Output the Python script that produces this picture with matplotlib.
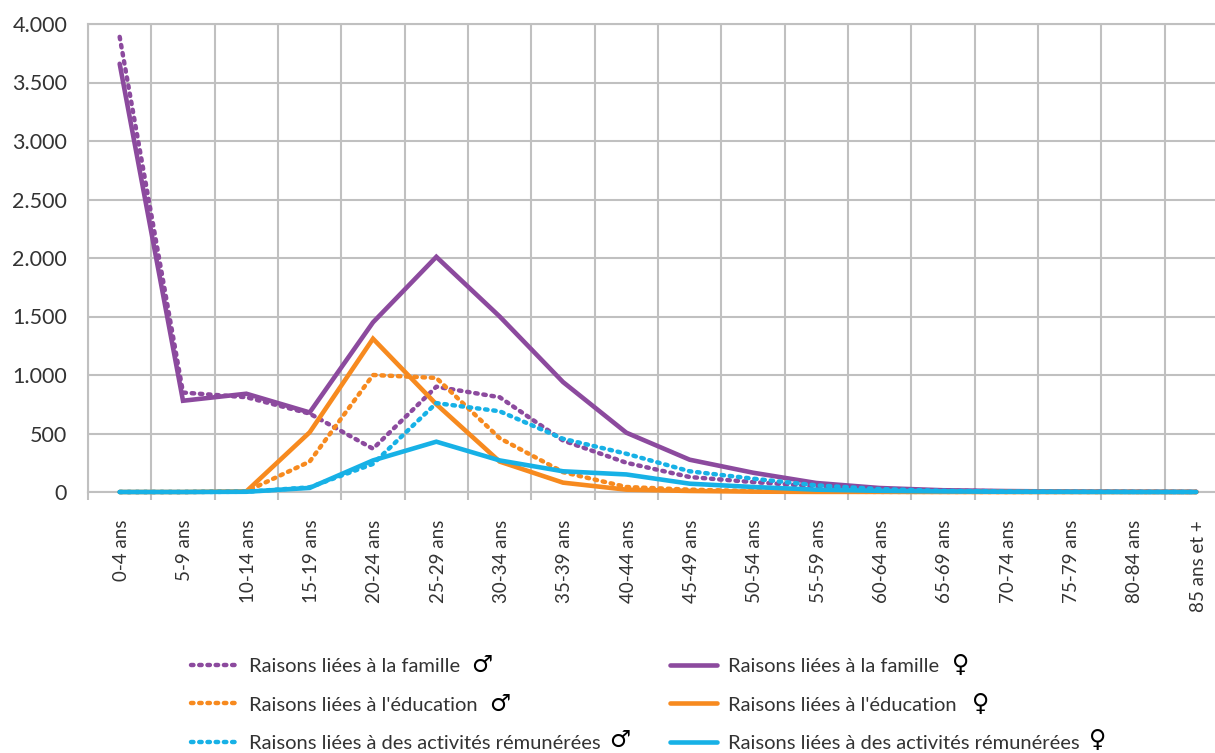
import matplotlib
matplotlib.use("Agg")
import matplotlib.pyplot as plt
from matplotlib.ticker import FuncFormatter
from matplotlib.transforms import ScaledTranslation

# tranches d'age
age_groups = ["0-4 ans", "5-9 ans", "10-14 ans", "15-19 ans", "20-24 ans", "25-29 ans",
              "30-34 ans", "35-39 ans", "40-44 ans", "45-49 ans", "50-54 ans", "55-59 ans",
              "60-64 ans", "65-69 ans", "70-74 ans", "75-79 ans", "80-84 ans", "85 ans et +"]

family_m = [3890, 850, 810, 670, 370, 900, 810, 440, 250, 128, 85, 48, 25, 12, 6, 3, 2, 1]
family_f = [3660, 780, 840, 680, 1450, 2010, 1500, 940, 507, 276, 165, 77, 34, 15, 8, 4, 2, 1]
edu_m = [0, 0, 5, 260, 1000, 975, 460, 170, 43, 20, 8, 3, 1, 1, 0, 0, 0, 0]
edu_f = [0, 0, 5, 510, 1310, 750, 260, 80, 20, 9, 3, 1, 1, 0, 0, 0, 0, 0]
work_m = [0, 0, 2, 40, 240, 760, 690, 455, 327, 177, 114, 57, 25, 10, 4, 2, 1, 0]
work_f = [0, 0, 2, 35, 270, 430, 270, 177, 150, 71, 43, 20, 10, 5, 2, 1, 0, 0]

label_family = "Raisons liées à la famille"
label_edu = "Raisons liées à l'éducation"
label_work = "Raisons liées à des activités rémunérées"

PURPLE = "#8c4a9e"
ORANGE = "#f78a1f"
BLUE = "#17b1e6"
GRID = "#c0c0c0"
TEXT = "#333333"
W, H = 1215, 753

plt.rcParams["font.family"] = ["Lato", "DejaVu Sans"]

fig = plt.figure(figsize=(W / 100, H / 100), dpi=100)
# l'axe continue au-dela du bord droit de la figure
ax = fig.add_axes([88 / W, (H - 492) / H, (1228 - 88) / W, 468 / H])

x = [i + 0.5 for i in range(len(age_groups))]
dots = (0, (0.55, 1.3))
series = [
    (family_m, PURPLE, dots, label_family),
    (family_f, PURPLE, "-", label_family),
    (edu_m, ORANGE, dots, label_edu),
    (edu_f, ORANGE, "-", label_edu),
    (work_m, BLUE, dots, label_work),
    (work_f, BLUE, "-", label_work),
]
handles = {}
for vals, color, style, label in series:
    if style == "-":
        line, = ax.plot(x, vals, color=color, lw=3.3, ls=style, label=label,
                        solid_capstyle="round", solid_joinstyle="miter", clip_on=False, zorder=3)
    else:
        line, = ax.plot(x, vals, color=color, lw=3.2, ls=style, label=label,
                        dash_capstyle="round", clip_on=False, zorder=3)
    handles[(label, style == "-")] = line

ax.set_xlim(0, 18)
ax.set_ylim(0, 4000)
ax.set_yticks(range(0, 4001, 500))
ax.yaxis.set_major_formatter(FuncFormatter(lambda v, _: f"{int(v):,}".replace(",", ".")))
ax.set_xticks(range(19))
ax.set_xticklabels([])
ax.set_xticks(x, minor=True)
ax.set_xticklabels(age_groups, minor=True, rotation=90, fontsize=13.5, color=TEXT)
ax.grid(True, which="major", color=GRID, lw=1.5)
ax.set_axisbelow(True)
for s in ax.spines.values():
    s.set_color(GRID)
    s.set_linewidth(1.5)
ax.tick_params(axis="x", which="major", length=6, width=1.5, color=GRID)
ax.tick_params(axis="x", which="minor", length=0, pad=20)
ax.tick_params(axis="y", length=0, pad=15, labelsize=15.5, labelcolor=TEXT)

# petit decalage horizontal des libelles d'age
shift = ScaledTranslation(2 / 100, 0, fig.dpi_scale_trans)
for tick_label in ax.get_xticklabels(minor=True):
    tick_label.set_transform(tick_label.get_transform() + shift)

ordered = [handles[(label_family, False)], handles[(label_edu, False)], handles[(label_work, False)],
           handles[(label_family, True)], handles[(label_edu, True)], handles[(label_work, True)]]
labels = [label_family, label_edu, label_work] * 2
fig.legend(ordered, labels, ncol=2, loc="upper left", bbox_to_anchor=(191 / W, (H - 658) / H),
           frameon=False, fontsize=14.5, labelcolor=TEXT, handlelength=2.35, handletextpad=0.55,
           labelspacing=1.06, columnspacing=3.4, borderpad=0, borderaxespad=0)

# symboles de sexe a cote des libelles
for px, py, sym in [(482, 665, "♂"), (500, 704, "♂"), (620, 740, "♂"),
                    (961, 665, "♀"), (981, 704, "♀"), (1098, 740, "♀")]:
    fig.text(px / W, (H - py) / H, sym, fontsize=17, color="black",
             family="DejaVu Sans", ha="center", va="center")

fig.savefig("out.png", dpi=100)
